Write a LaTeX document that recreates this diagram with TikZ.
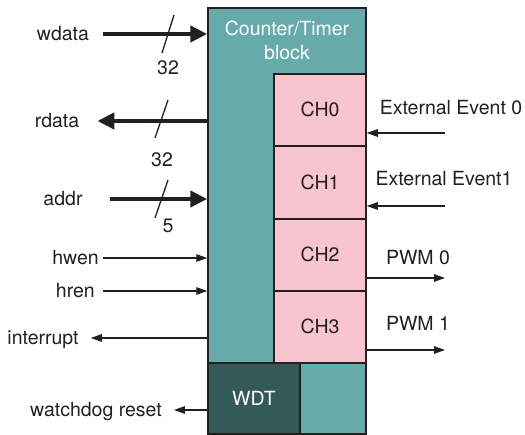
\documentclass[tikz,border=0pt]{standalone}
\usepackage{fontspec}
\setmainfont{TeX Gyre Heros}
\usetikzlibrary{arrows.meta}
\definecolor{blkteal}{RGB}{102,170,170}
\definecolor{chpink}{RGB}{248,196,206}
\definecolor{wdtdark}{RGB}{52,90,88}
\definecolor{edge}{RGB}{35,31,32}
\begin{document}
\begin{tikzpicture}[x=1pt, y=-1pt, font=\fontsize{19.5}{24}\selectfont,
    every node/.style={inner sep=0pt, text=edge},
    lbl/.style={text height=14pt, text depth=0pt},
    chan/.style={draw=edge, line width=1.5pt, fill=chpink, minimum width=92pt, minimum height=72pt, text height=14pt, text depth=0pt},
    bus/.style={line width=4.5pt, draw=edge, -{Triangle[length=17pt, width=16pt]}},
    sig/.style={line width=1.3pt, draw=edge, -{Triangle[length=11pt, width=7.5pt]}},
    slash/.style={line width=1.3pt, draw=edge}]
    \useasboundingbox (0,0) rectangle (525,435);

    % blocks
    \node[draw=edge, line width=1.5pt, fill=blkteal, minimum width=158pt, minimum height=426pt] (blk) at (287,221) {};
    \node[text=white, align=center] (title) at (287,40) {Counter/Timer\\block};
    \node[chan] (ch0) at (320,110) {CH0\hspace{12pt}};
    \node[chan, minimum height=73pt] (ch1) at (320,182.5) {CH1\hspace{12pt}};
    \node[chan] (ch2) at (320,255) {CH2\hspace{12pt}};
    \node[chan] (ch3) at (320,327) {CH3\hspace{12pt}};
    \node[draw=edge, line width=1.5pt, fill=wdtdark, minimum width=92pt, minimum height=71pt, text=white, text height=14pt, text depth=0pt] (wdt) at (254,398.5) {WDT\hspace{10pt}};

    % left side
    \node[lbl] (wdata) at (63,34) {wdata};
    \node[lbl] (rdata) at (57,121) {rdata};
    \node[lbl] (addr) at (63,199) {addr};
    \node[lbl, anchor=east] (hwen) at (99,258) {hwen};
    \node[lbl, anchor=east] (hren) at (95,291) {hren};
    \node[lbl] (intr) at (43,338) {interrupt};
    \node[lbl] (wdr) at (96,410) {watchdog reset};

    \draw[bus] ([xshift=14pt]wdata.east) -- (wdata -| blk.west);
    \draw[bus] (rdata -| blk.west) -- ([xshift=18pt]rdata.east);
    \draw[bus] ([xshift=27pt]addr.east) -- (addr -| blk.west);
    \draw[sig] ([xshift=4pt]hwen.east) -- (hwen -| blk.west);
    \draw[sig] ([xshift=8pt]hren.east) -- (hren -| blk.west);
    \draw[sig] (intr -| blk.west) -- ([xshift=12pt]intr.east);
    \draw[sig] (wdr -| wdt.west) -- ([xshift=12pt]wdr.east);

    % bus widths
    \draw[slash] (162,53) -- (174,15);
    \draw[slash] (155,138) -- (168,100);
    \draw[slash] (155,218) -- (168,180);
    \node[lbl] (w32) at (168,68) {32};
    \node[lbl] (r32) at (162,160) {32};
    \node[lbl] (a5) at (168,226) {5};

    % right side
    \node[lbl] (ev0) at (451,108) {External Event 0};
    \node[lbl] (ev1) at (444,179) {External Event1};
    \node[lbl] (pwm0) at (418,258) {PWM 0};
    \node[lbl] (pwm1) at (418,324) {PWM 1};
    \coordinate (ev0in) at (445,133);
    \coordinate (ev1in) at (445,206);
    \coordinate (pwm0out) at (445,278);
    \coordinate (pwm1out) at (445,350);
    \draw[sig] (ev0in) -- (ev0in -| ch0.east);
    \draw[sig] (ev1in) -- (ev1in -| ch1.east);
    \draw[sig] (pwm0out -| ch2.east) -- (pwm0out);
    \draw[sig] (pwm1out -| ch3.east) -- (pwm1out);
\end{tikzpicture}
\end{document}
